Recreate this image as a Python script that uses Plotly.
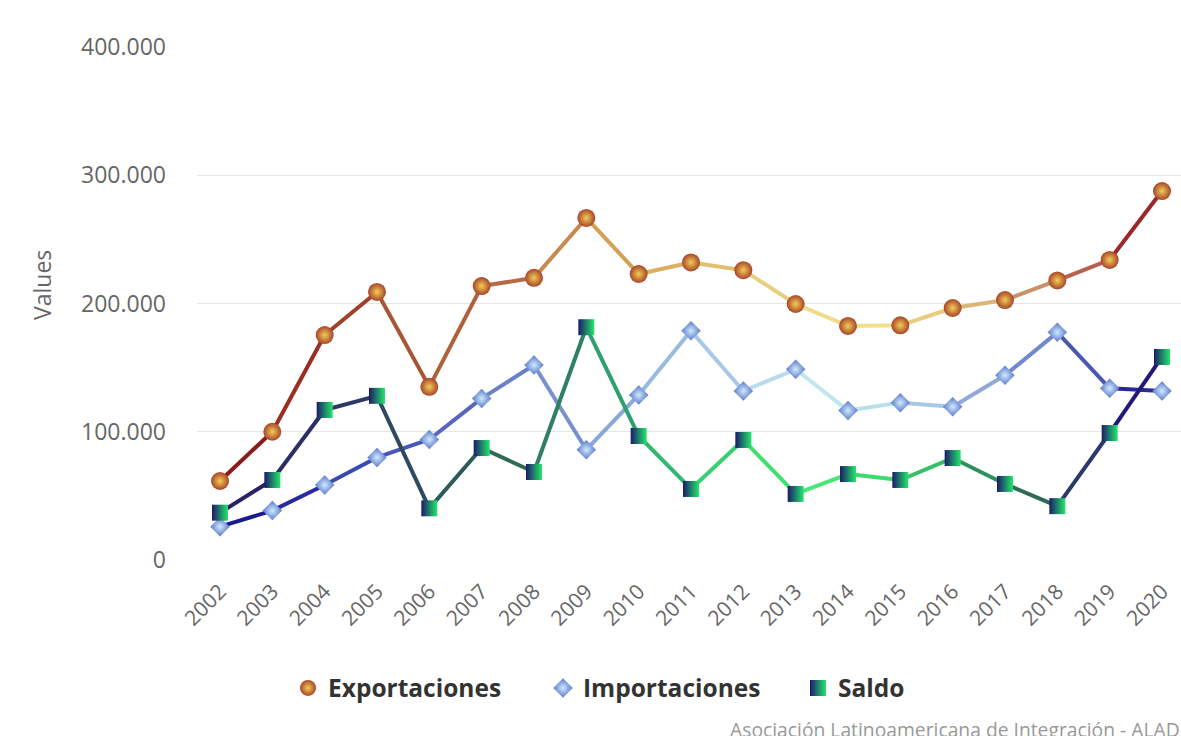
import plotly.graph_objects as go

# ---- data ----
years = [2002, 2003, 2004, 2005, 2006, 2007, 2008, 2009, 2010, 2011,
         2012, 2013, 2014, 2015, 2016, 2017, 2018, 2019, 2020]
exportaciones = [61600, 100000, 175400, 209000, 135000, 213600, 220000, 266700, 223000, 232000,
                 226000, 199600, 182500, 183000, 196500, 202700, 218000, 234000, 287700]
importaciones = [26000, 38500, 58500, 80000, 94000, 126000, 152000, 86000, 128700, 178700,
                 131800, 148700, 116500, 122700, 119500, 144000, 177500, 133900, 131800]
saldo = [36900, 62400, 117000, 128000, 40300, 87300, 68600, 181500, 96700, 55400,
         93600, 51500, 67000, 62400, 79500, 59300, 42000, 99000, 158300]
series_names = ["Exportaciones", "Importaciones", "Saldo"]
credits_text = "Asociación Latinoamericana de Integración - ALADI"

# ---- styles ----
seg_colors = {
    "Exportaciones": ["#8b1a1a", "#9a2e22", "#a0402a", "#a85535", "#b0603a", "#b86a45",
                      "#c8884e", "#d4a056", "#dab060", "#e0c070", "#e8d080", "#eedc88",
                      "#f0e08a", "#e8cc80", "#dcb478", "#cc9068", "#b86050", "#9a2828"],
    "Importaciones": ["#1a1a8e", "#2a2aa0", "#3a4ab0", "#4858b8", "#5566bb", "#6a80c8",
                      "#7890d0", "#88a8d8", "#98bce0", "#a8c8e8", "#b8dcec", "#c0e6f0",
                      "#b8e0ec", "#a8c8e4", "#90a8dc", "#7088cc", "#4a58b0", "#2a2a90"],
    "Saldo": ["#2a2066", "#2b2f68", "#2c3a68", "#2f4a5e", "#2f5a5a", "#2f6a58",
              "#2e8060", "#2ea070", "#30b870", "#38d070", "#40e070", "#48e878",
              "#40d870", "#38c068", "#309060", "#2e6a58", "#2a3a6a", "#221a7a"],
}
marker_styles = {
    "Exportaciones": dict(symbol="circle", size=18, color="#a8452a",
                          gradient=dict(type="radial", color="#f2cc55"),
                          line=dict(width=0)),
    "Importaciones": dict(symbol="diamond", size=15, color="#5a78cc",
                          gradient=dict(type="radial", color="#cfeafc"),
                          line=dict(width=0)),
    "Saldo": dict(symbol="square", size=16, color="#1c1a6a",
                  gradient=dict(type="horizontal", color="#22e86a"),
                  line=dict(width=0)),
}

data = {"Exportaciones": exportaciones, "Importaciones": importaciones, "Saldo": saldo}

fig = go.Figure()
for name in series_names:
    vals = data[name]
    cols = seg_colors[name]
    for i in range(len(years) - 1):
        fig.add_trace(go.Scatter(
            x=years[i:i + 2], y=vals[i:i + 2], mode="lines",
            line=dict(color=cols[i], width=4), showlegend=False, hoverinfo="skip"))
    fig.add_trace(go.Scatter(
        x=years, y=vals, mode="markers", name=name,
        marker=marker_styles[name]))

W, H = 1181, 736
L, R, T, B = 197, 0, 47, 176
PW = W - L - R
FONT = "Open Sans, DejaVu Sans, sans-serif"
fig.update_layout(
    width=W, height=H,
    margin=dict(l=L, r=R, t=T, b=B, pad=0),
    paper_bgcolor="#ffffff", plot_bgcolor="#ffffff",
    separators=",.",
    font=dict(family=FONT, color="#666666"),
    showlegend=True,
    legend=dict(orientation="h", x=(288 - L) / PW, xanchor="left",
                y=(560 - 688) / 513, yanchor="middle",
                font=dict(size=24.5, color="#333333", family=FONT, weight="bold"),
                entrywidth=210, entrywidthmode="pixels",
                bgcolor="rgba(0,0,0,0)"),
    xaxis=dict(range=[2002 - 23 / 52.33, 2020 + 19 / 52.33], tickmode="array",
               tickvals=years, ticktext=[str(y) for y in years], tickangle=-45,
               showgrid=False, zeroline=False, showline=False, ticks="",
               ticklabelstandoff=14,
               tickfont=dict(size=21, color="#666666")),
    yaxis=dict(range=[0, 400000], tickvals=[0, 100000, 200000, 300000, 400000],
               tickformat=",d", showgrid=True, gridcolor="#e6e6e6", gridwidth=1,
               zeroline=False, showline=False, ticks="", ticklabelstandoff=30,
               tickfont=dict(size=23, color="#666666")),
    annotations=[
        dict(text="Values", textangle=-90, xref="paper", yref="paper",
             x=(42 - L) / PW, y=(560 - 285) / 513, xanchor="center", yanchor="middle",
             showarrow=False, font=dict(size=23, color="#666666")),
        dict(text=credits_text, xref="paper", yref="paper",
             x=(728 - L) / PW, y=(560 - 714) / 513, xanchor="left", yanchor="top",
             showarrow=False, font=dict(size=19.3, color="#999999")),
    ],
)

fig.write_html("out.html")
